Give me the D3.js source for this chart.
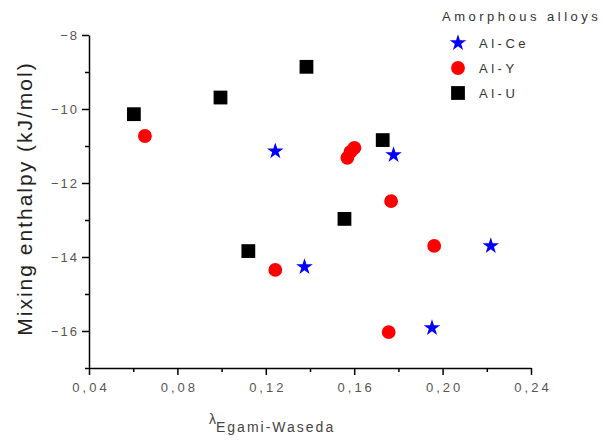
<!DOCTYPE html>
<html>
<head>
<meta charset="utf-8">
<script src="https://cdn.jsdelivr.net/npm/d3@7/dist/d3.min.js"></script>
<style>
  body { margin: 0; background: #fff; }
  svg { font-family: "Liberation Sans", Arial, sans-serif; }
  .tick text { fill: #555; font-size: 13px; }
  .xaxis .tick text { letter-spacing: 3px; }
  .yaxis .tick text { letter-spacing: 2px; }
  .domain, .tick line { stroke: #000; stroke-width: 1.5; }
</style>
</head>
<body>
<div class="container"></div>
<script>
// Al-Ce (blue stars)
var ceX = [0.1243, 0.1778, 0.1375, 0.2218, 0.1952];
var ceY = [-11.14, -11.24, -14.27, -13.70, -15.92];
// Al-Y (red circles)
var yX = [0.0653, 0.1569, 0.1583, 0.1601, 0.1767, 0.1962, 0.1243, 0.1756];
var yY = [-10.73, -11.32, -11.16, -11.05, -12.49, -13.70, -14.35, -16.03];
// Al-U (black squares)
var uX = [0.0603, 0.0995, 0.1384, 0.1729, 0.1556, 0.1121];
var uY = [-10.14, -9.69, -8.86, -10.84, -12.97, -13.84];

var xMajor = [0.04, 0.08, 0.12, 0.16, 0.20, 0.24];
var xMinor = [0.06, 0.10, 0.14, 0.18, 0.22];
var yMajor = [-8, -10, -12, -14, -16];
var yMinor = [-9, -11, -13, -15, -17];

var series = [
  { name: 'Al-Ce', xs: ceX, ys: ceY, type: d3.symbolStar, size: 85, color: '#0000ff' },
  { name: 'Al-Y', xs: yX, ys: yY, type: d3.symbolCircle, size: 150, color: '#ff0000' },
  { name: 'Al-U', xs: uX, ys: uY, type: d3.symbolSquare, size: 190, color: '#000000' }
];

var width = 603, height = 442;

var x = d3.scaleLinear().domain([0.04, 0.24]).range([89, 531]);
var y = d3.scaleLinear().domain([-8, -17]).range([35, 368]);

var svg = d3.select('.container').append('svg')
    .attr('width', width)
    .attr('height', height);

var fmt = function (d) { return d3.format('.2f')(d).replace('.', ','); };

// minor ticks first, then the major axis on top
svg.append('g')
    .attr('transform', 'translate(0,' + y(-17) + ')')
    .call(d3.axisBottom(x).tickValues(xMinor).tickSize(4).tickFormat(''))
    .call(function (g) { g.select('.domain').remove(); });
svg.append('g')
    .attr('class', 'xaxis')
    .attr('transform', 'translate(0,' + y(-17) + ')')
    .call(d3.axisBottom(x).tickValues(xMajor).tickSize(7).tickSizeOuter(0).tickPadding(8).tickFormat(fmt))
    .call(function (g) { g.selectAll('.tick text').attr('dx', 1.5); });

svg.append('g')
    .attr('transform', 'translate(' + x(0.04) + ',0)')
    .call(d3.axisLeft(y).tickValues(yMinor).tickSize(4).tickFormat(''))
    .call(function (g) { g.select('.domain').remove(); });
svg.append('g')
    .attr('class', 'yaxis')
    .attr('transform', 'translate(' + x(0.04) + ',0)')
    .call(d3.axisLeft(y).tickValues(yMajor).tickSize(7).tickSizeOuter(0).tickPadding(5).tickFormat(d3.format('d')))
    .call(function (g) { g.selectAll('.tick text').attr('dx', 2); });

// axis titles
svg.append('text')
    .attr('transform', 'translate(32,' + ((y(-8) + y(-17)) / 2 - 3) + ') rotate(-90)')
    .attr('text-anchor', 'middle')
    .style('font-size', '21px')
    .style('letter-spacing', '2px')
    .style('fill', '#222')
    .text('Mixing enthalpy (kJ/mol)');

var xt = svg.append('text')
    .attr('x', 209)
    .attr('y', 424)
    .style('fill', '#444');
xt.append('tspan').style('font-size', '14px').text('λ');
xt.append('tspan').attr('dy', 8).style('font-size', '14px').style('letter-spacing', '2px').text('Egami-Waseda');

// points
series.forEach(function (s) {
  svg.append('g').selectAll('path')
    .data(s.xs.map(function (v, i) { return [v, s.ys[i]]; }))
    .enter().append('path')
      .attr('d', d3.symbol().type(s.type).size(s.size))
      .attr('transform', function (d) { return 'translate(' + x(d[0]) + ',' + y(d[1]) + ')'; })
      .attr('fill', s.color);
});

// legend
var legend = svg.append('g')
    .style('font-size', '13px')
    .style('letter-spacing', '3.5px')
    .style('fill', '#333');
legend.append('text')
    .attr('x', 442)
    .attr('y', 21)
    .text('Amorphous alloys');

series.forEach(function (s, i) {
  var ly = 43 + i * 25;
  legend.append('path')
    .attr('d', d3.symbol().type(s.type).size(s.size))
    .attr('transform', 'translate(458,' + ly + ')')
    .attr('fill', s.color);
  legend.append('text')
    .attr('x', 479)
    .attr('y', ly + 5)
    .text(s.name);
});
</script>
</body>
</html>
